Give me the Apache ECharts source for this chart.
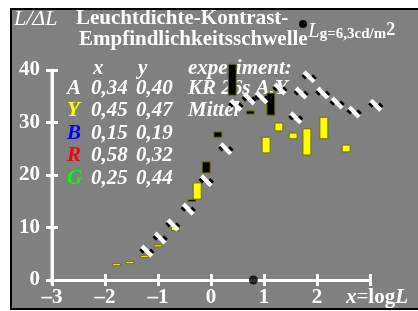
<!DOCTYPE html>
<html>
<head>
<meta charset="utf-8">
<script src="https://cdn.jsdelivr.net/npm/echarts@6/dist/echarts.min.js"></script>
<style>
  html, body { margin: 0; padding: 0; background: #fff; }
  #wrap { position: relative; width: 418px; height: 311px; overflow: hidden; }
  #chart { width: 418px; height: 311px; }
  .cover { position: absolute; }
</style>
</head>
<body>
<div id="wrap">
  <div id="chart"></div>
  <div class="cover" style="left:0;top:0;width:418px;height:8px;background:#fff"></div>
  <div class="cover" style="left:0;top:0;width:10px;height:311px;background:#fff"></div>
  <div class="cover" style="left:0;top:310px;width:418px;height:1px;background:#fff"></div>
  <div class="cover" style="left:10px;top:8px;width:408px;height:2px;background:#000"></div>
  <div class="cover" style="left:10px;top:8px;width:2px;height:302px;background:#000"></div>
  <div class="cover" style="left:10px;top:308px;width:408px;height:2px;background:#000"></div>
</div>
<script>
// threshold markers (x = log L, y = L/dL)
const markX = [-1.21, -0.96, -0.72, -0.43, -0.09, 0.28, 0.47, 0.72, 0.96, 1.30, 1.60, 1.70, 1.85, 2.11, 2.38, 2.70, 3.11];
const markY = [5.5, 8.0, 10.5, 13.5, 18.9, 25.0, 33.3, 34.5, 34.7, 36.4, 30.9, 35.6, 38.7, 35.6, 33.7, 32.0, 33.3];
// range bars: [x, low, high]
const blackBars = [[-0.36, 15.0, 15.3], [-0.09, 20.4, 22.5], [0.13, 27.2, 28.2], [0.40, 35.2, 41.1], [0.74, 31.6, 32.2], [1.13, 31.4, 35.6]];
const yellowBars = [[-1.78, 2.9, 3.1], [-1.53, 3.3, 3.5], [-1.26, 4.5, 4.7], [-1.0, 6.3, 6.7], [-0.67, 9.4, 10.1], [-0.26, 15.4, 18.5],
  [1.04, 24.2, 27.2], [1.28, 28.4, 29.9], [1.55, 26.9, 28.0], [1.81, 23.8, 28.8], [2.13, 26.9, 31.0], [2.55, 24.4, 25.7]];
const axisDot = [[0.8, 0]];
// legend table
const rowNames = ['A', 'Y', 'B', 'R', 'G'];
const rowColors = ['#ffffff', '#ffff00', '#0000ff', '#ff0000', '#00ff00'];
const rowX = ['0,34', '0,45', '0,15', '0,58', '0,25'];
const rowY = ['0,40', '0,47', '0,19', '0,32', '0,44'];
const rowNote = ['KR 26s A,Y', 'Mittel', '', '', ''];

const serif = '"Liberation Serif", "DejaVu Serif", serif';

function barSeries(data, fill) {
  return {
    type: 'custom',
    data: data,
    z: 3,
    renderItem: function (params, api) {
      const top = api.coord([api.value(0), api.value(2)]);
      const bot = api.coord([api.value(0), api.value(1)]);
      return {
        type: 'rect',
        shape: { x: top[0] - 4, y: top[1], width: 8, height: Math.max(bot[1] - top[1], 2) },
        style: { fill: fill, stroke: '#6e6e00', lineWidth: 1 }
      };
    }
  };
}

// diagonal white bar with black edges
function markerItem(params, api) {
  const p = api.coord([api.value(0), api.value(1)]);
  return {
    type: 'group', x: p[0], y: p[1], rotation: -Math.PI / 4,
    children: [
      { type: 'rect', shape: { x: -7, y: -2.2, width: 14, height: 4.4 }, style: { fill: '#fff' } },
      { type: 'rect', shape: { x: -6, y: 2.2, width: 5, height: 2.6 }, style: { fill: '#000' } },
      { type: 'rect', shape: { x: 1, y: -4.8, width: 5, height: 2.6 }, style: { fill: '#000' } }
    ]
  };
}

const texts = [];
texts.push({ type: 'text', left: 14, top: 8, style: { text: 'L/ΔL', fill: '#fff', font: 'italic 22px ' + serif } });
texts.push({ type: 'text', left: 76, top: 8, style: { text: 'Leuchtdichte-Kontrast-', fill: '#fff', font: 'bold 21px ' + serif } });
texts.push({ type: 'text', left: 79, top: 29, style: { text: 'Empfindlichkeitsschwelle', fill: '#fff', font: 'bold 21px ' + serif } });
texts.push({ type: 'circle', shape: { cx: 303, cy: 24, r: 4 }, style: { fill: '#000' } });
texts.push({
  type: 'text', left: 308, top: 21,
  style: {
    text: '{l|L}{g|g=6,3cd/m}{s|2}', fill: '#fff',
    rich: {
      l: { font: 'italic 21px ' + serif, fill: '#fff', verticalAlign: 'bottom' },
      g: { font: 'bold 15px ' + serif, fill: '#fff', verticalAlign: 'bottom' },
      s: { font: 'bold 18px ' + serif, fill: '#fff', verticalAlign: 'top' }
    }
  }
});
const fItal = 'italic bold 21px ' + serif;
texts.push({ type: 'text', left: 93, top: 58, style: { text: 'x', fill: '#fff', font: fItal } });
texts.push({ type: 'text', left: 138, top: 58, style: { text: 'y', fill: '#fff', font: fItal } });
texts.push({ type: 'text', left: 188, top: 58, style: { text: 'experiment:', fill: '#fff', font: fItal } });
for (let i = 0; i < rowNames.length; i++) {
  const t = 78 + i * 22.4;
  texts.push({ type: 'text', left: 67, top: t, style: { text: rowNames[i], fill: rowColors[i], font: fItal } });
  texts.push({ type: 'text', left: 91, top: t, style: { text: rowX[i], fill: '#fff', font: fItal } });
  texts.push({ type: 'text', left: 136, top: t, style: { text: rowY[i], fill: '#fff', font: fItal } });
  if (rowNote[i]) texts.push({ type: 'text', left: 188, top: t, style: { text: rowNote[i], fill: '#fff', font: fItal } });
}
texts.push({
  type: 'text', left: 346, top: 287,
  style: {
    text: '{i|x}{n|=}{b|log}{i|L}', fill: '#fff',
    rich: {
      i: { font: 'italic bold 21px ' + serif, fill: '#fff' },
      n: { font: '21px ' + serif, fill: '#fff' },
      b: { font: 'bold 21px ' + serif, fill: '#fff' }
    }
  }
});

const chart = echarts.init(document.getElementById('chart'));
const tickFont = { color: '#fff', fontFamily: serif, fontWeight: 'bold', fontSize: 21 };
const whiteLine = { color: '#fff', width: 3 };
chart.setOption({
  backgroundColor: '#808080',
  animation: false,
  graphic: texts,
  grid: { left: 52, right: 48, top: 70, bottom: 31 },
  xAxis: [{
    type: 'value', min: -3, max: 3, interval: 1,
    splitLine: { show: false },
    axisLine: { show: true, onZero: false, lineStyle: whiteLine },
    axisTick: { show: true, length: 6, lineStyle: whiteLine },
    axisLabel: Object.assign({ margin: 7, formatter: v => v === 3 ? '' : (v < 0 ? '–' + (-v) : '' + v) }, tickFont)
  }, {
    type: 'value', min: -3, max: 3, interval: 1, position: 'bottom',
    splitLine: { show: false }, axisLine: { show: false, onZero: false }, axisLabel: { show: false },
    axisTick: { show: true, inside: true, length: 6, lineStyle: whiteLine }
  }],
  yAxis: [{
    type: 'value', min: 0, max: 40, interval: 10, position: 'left',
    splitLine: { show: false },
    axisLine: { show: true, onZero: false, lineStyle: whiteLine },
    axisTick: { show: true, length: 6, lineStyle: whiteLine },
    axisLabel: Object.assign({ margin: 12 }, tickFont)
  }, {
    type: 'value', min: 0, max: 40, interval: 10, position: 'left',
    splitLine: { show: false }, axisLine: { show: false, onZero: false }, axisLabel: { show: false },
    axisTick: { show: true, inside: true, length: 6, lineStyle: whiteLine }
  }],
  series: [
    {
      // vertical axis line at the left edge of the x range
      type: 'custom', z: 10, clip: false,
      data: [[-3, -0.7, 40]],
      renderItem: function (params, api) {
        const a = api.coord([api.value(0), api.value(1)]);
        const b = api.coord([api.value(0), api.value(2)]);
        return { type: 'line', shape: { x1: a[0], y1: a[1], x2: b[0], y2: b[1] }, style: { stroke: '#fff', lineWidth: 3 } };
      }
    },
    barSeries(yellowBars, '#ffff00'),
    barSeries(blackBars, '#000000'),
    {
      type: 'custom', z: 4, clip: false,
      data: markX.map((x, i) => [x, markY[i]]),
      renderItem: markerItem
    },
    {
      type: 'scatter', clip: false, z: 6,
      data: axisDot, symbol: 'circle', symbolSize: 9,
      itemStyle: { color: '#000' }
    }
  ]
});
</script>
</body>
</html>
